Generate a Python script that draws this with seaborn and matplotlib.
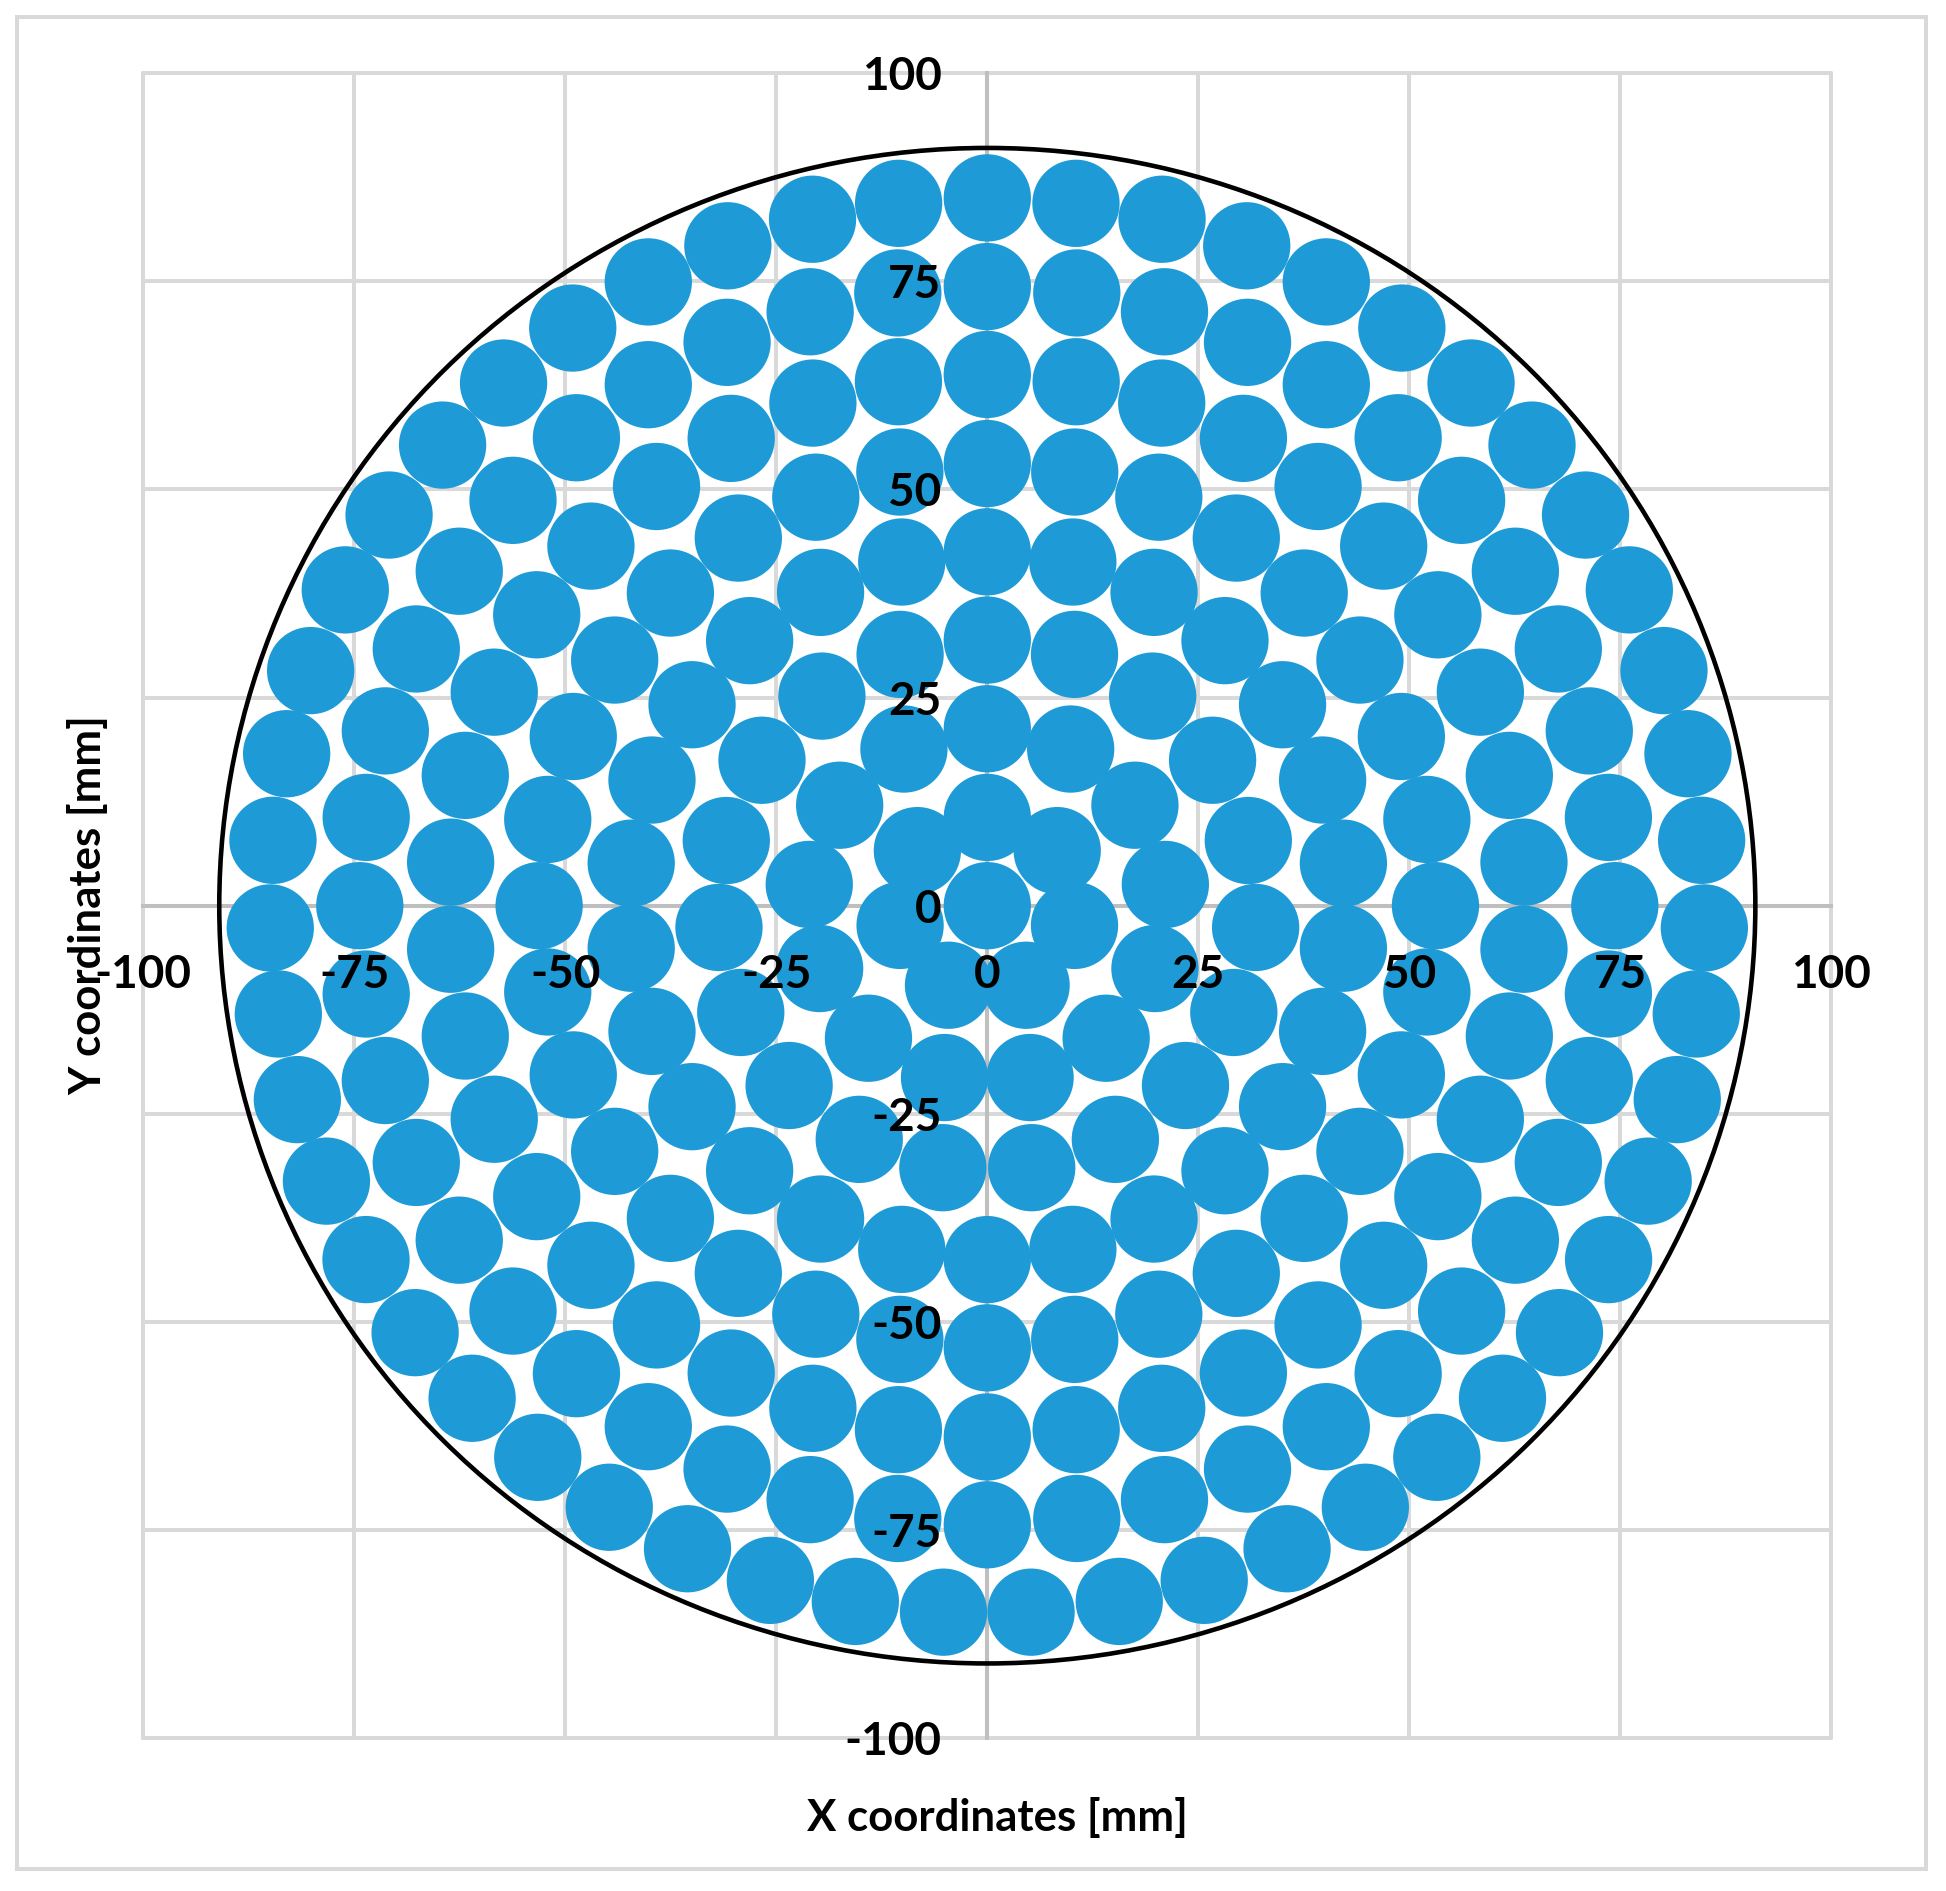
import numpy as np
import pandas as pd
import matplotlib
matplotlib.use('Agg')
import matplotlib.pyplot as plt
from matplotlib.patches import Circle, Rectangle
import seaborn as sns

# ------------------------------------------------------------
# data: wire positions (polar, per ring)
# ------------------------------------------------------------
centre_x = [0.0]
centre_y = [0.0]

ring_radius = [10.6, 21.25, 31.9, 42.5, 53.1, 63.8, 74.35, 85.0]

ring1_deg = [90.0, 38.6, -12.9, -64.3, -115.7, -167.1, 141.4]
ring2_deg = [90.0, 62.3, 34.6, 6.9, -20.8, -48.5, -76.2, -103.8, -131.5,
             -159.2, 173.1, 145.4, 117.7]
ring3_deg = [90.0, 71.1, 52.1, 33.2, 14.2, -4.7, -23.7, -42.6, -61.6, -80.5,
             -99.5, -118.4, -137.4, -156.3, -175.3, 165.8, 146.8, 127.9, 108.9]
ring4_deg = [90.0, 76.2, 62.3, 48.5, 34.6, 20.8, 6.9, -6.9, -20.8, -34.6,
             -48.5, -62.3, -76.2, -90.0, -103.8, -117.7, -131.5, -145.4,
             -159.2, -173.1, 173.1, 159.2, 145.4, 131.5, 117.7, 103.8]
ring5_deg = [90.0, 78.75, 67.5, 56.25, 45.0, 33.75, 22.5, 11.25, 0.0, -11.25,
             -22.5, -33.75, -45.0, -56.25, -67.5, -78.75, -90.0, -101.25,
             -112.5, -123.75, -135.0, -146.25, -157.5, -168.75, 180.0,
             168.75, 157.5, 146.25, 135.0, 123.75, 112.5, 101.25]
ring6_deg = [90.0, 80.5, 71.1, 61.6, 52.1, 42.6, 33.2, 23.7, 14.2, 4.7, -4.7,
             -14.2, -23.7, -33.2, -42.6, -52.1, -61.6, -71.1, -80.5, -90.0,
             -99.5, -108.9, -118.4, -127.9, -137.4, -146.8, -156.3, -165.8,
             -175.3, 175.3, 165.8, 156.3, 146.8, 137.4, 127.9, 118.4, 108.9,
             99.5]
ring7_deg = [90.0, 81.8, 73.6, 65.5, 57.3, 49.1, 40.9, 32.7, 24.5, 16.4, 8.2,
             0.0, -8.2, -16.4, -24.5, -32.7, -40.9, -49.1, -57.3, -65.5,
             -73.6, -81.8, -90.0, -98.2, -106.4, -114.5, -122.7, -130.9,
             -139.1, -147.3, -155.5, -163.6, -171.8, 180.0, 171.8, 163.6,
             155.5, 147.3, 139.1, 130.9, 122.7, 114.5, 106.4, 98.2]
ring8_deg = [90.0, 82.9, 75.9, 68.8, 61.8, 54.7, 47.6, 40.6, 33.5, 26.5, 19.4,
             12.4, 5.3, -1.8, -8.8, -15.9, -22.9, -30.0, -37.1, -44.1, -51.2,
             -58.2, -65.3, -72.4, -79.4, -86.5, -93.5, -100.6, -107.6, -114.7,
             -121.8, -128.8, -135.9, -142.9, -150.0, -157.1, -164.1, -171.2,
             -178.2, 174.7, 167.6, 160.6, 153.5, 146.5, 139.4, 132.4, 125.3,
             118.2, 111.2, 104.1, 97.1]

boundary_radius = 91.0

tick_values = [-100, -75, -50, -25, 0, 25, 50, 75, 100]
tick_labels = ['-100', '-75', '-50', '-25', '0', '25', '50', '75', '100']

# ------------------------------------------------------------
# polar -> cartesian table
# ------------------------------------------------------------
rings = [ring1_deg, ring2_deg, ring3_deg, ring4_deg,
         ring5_deg, ring6_deg, ring7_deg, ring8_deg]
xs = list(centre_x)
ys = list(centre_y)
for r, angles in zip(ring_radius, rings):
    a = np.radians(angles)
    xs += list(r * np.cos(a))
    ys += list(r * np.sin(a))
df = pd.DataFrame({'x': xs, 'y': ys})

# ------------------------------------------------------------
# style
# ------------------------------------------------------------
sns.set_theme(style='white')
plt.rcParams['font.family'] = ['Lato', 'DejaVu Sans']
plt.rcParams['font.weight'] = 'bold'

W, H, DPI = 1946, 1891, 100
fig = plt.figure(figsize=(W / DPI, H / DPI), dpi=DPI)
fig.patch.set_facecolor('white')

# plot area in pixel terms
left_px, right_px, top_px, bottom_px = 143.3, 1831.3, 73.0, 1738.4
ax = fig.add_axes([left_px / W, 1 - bottom_px / H,
                   (right_px - left_px) / W, (bottom_px - top_px) / H])
ax.set_facecolor('white')

GRID = '#d9d9d9'
AXIS = '#bfbfbf'
BLUE = '#1e9bd7'
LW = 2.9

for v in tick_values:
    ax.axvline(v, color=GRID, lw=LW, zorder=0.3, clip_on=False)
    ax.axhline(v, color=GRID, lw=LW, zorder=0.3, clip_on=False)

# wires: markers are pixel circles (~87 px across)
marker_pt = 87.3 * 72 / DPI
sns.scatterplot(data=df, x='x', y='y', s=marker_pt ** 2, color=BLUE,
                linewidth=0, edgecolor='none', legend=False, ax=ax, zorder=2)

ax.add_patch(Circle((0, 0), boundary_radius, fill=False, edgecolor='black',
                    lw=3.3, zorder=3))

ax.set_xlim(-100, 100)
ax.set_ylim(-100, 100)

for side in ['top', 'right']:
    ax.spines[side].set_visible(False)
ax.spines['left'].set_position(('data', 0))
ax.spines['bottom'].set_position(('data', 0))
for side in ['left', 'bottom']:
    ax.spines[side].set_color(AXIS)
    ax.spines[side].set_linewidth(LW)
    ax.spines[side].set_zorder(0.5)

ax.set_xticks(tick_values)
ax.set_xticklabels(tick_labels)
ax.set_yticks(tick_values)
ax.set_yticklabels(tick_labels)
ax.tick_params(axis='y', length=0, pad=33, labelsize=33, labelcolor='black')
ax.tick_params(axis='x', length=0, pad=35, labelsize=33, labelcolor='black')
for lab in ax.get_xticklabels() + ax.get_yticklabels():
    lab.set_fontweight('bold')
ax.xaxis.set_zorder(5)
ax.yaxis.set_zorder(5)
ax.set_xlabel('')
ax.set_ylabel('')

fig.text(997 / W, 1 - 1817 / H, 'X coordinates [mm]', ha='center',
         va='center', fontsize=31.5, fontweight='bold', color='black')
fig.text(88 / W, 1 - 905 / H, 'Y coordinates [mm]', ha='center',
         va='center', rotation=90, fontsize=31.5, fontweight='bold',
         color='black')

# outer chart border
fig.patches.append(Rectangle((17 / W, 1 - 1869 / H), (1926 - 17) / W,
                             (1869 - 17) / H, transform=fig.transFigure,
                             fill=False, edgecolor=GRID, lw=LW))

fig.savefig('out.png', dpi=DPI)
